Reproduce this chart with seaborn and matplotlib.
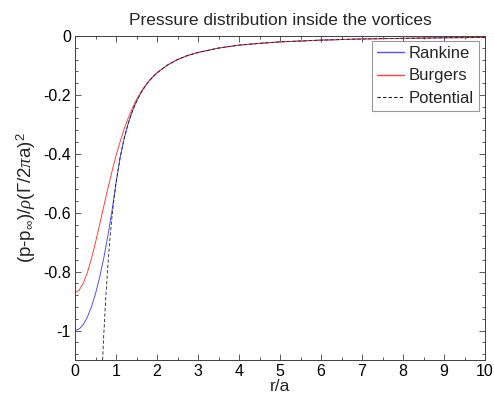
import matplotlib
matplotlib.use("Agg")
import matplotlib.pyplot as plt
import seaborn as sns
from matplotlib.ticker import MultipleLocator
from matplotlib.lines import Line2D

# ---- data ----
r_rankine = [0.0, 0.1, 0.2, 0.3, 0.4, 0.5, 0.6, 0.7, 0.8, 0.9, 1.0, 1.1, 1.2, 1.3,
             1.4, 1.5, 1.6, 1.7, 1.8, 1.9, 2.0, 2.25, 2.5, 2.75, 3.0, 3.5, 4.0,
             4.5, 5.0, 6.0, 7.0, 8.0, 9.0, 10.0]
p_rankine = [-1.0, -0.995, -0.98, -0.955, -0.92, -0.875, -0.82, -0.755, -0.68,
             -0.595, -0.5, -0.413, -0.347, -0.296, -0.255, -0.222, -0.195,
             -0.173, -0.154, -0.139, -0.125, -0.099, -0.08, -0.066, -0.056,
             -0.041, -0.031, -0.025, -0.02, -0.014, -0.010, -0.008, -0.006, -0.005]

r_burgers = [0.0, 0.1, 0.2, 0.3, 0.4, 0.5, 0.6, 0.7, 0.8, 0.9, 1.0, 1.1, 1.2, 1.3,
             1.4, 1.5, 1.6, 1.7, 1.8, 1.9, 2.0, 2.25, 2.5, 2.75, 3.0, 3.5, 4.0,
             4.5, 5.0, 6.0, 7.0, 8.0, 9.0, 10.0]
p_burgers = [-0.871, -0.863, -0.840, -0.804, -0.756, -0.701, -0.641, -0.579,
             -0.519, -0.461, -0.407, -0.359, -0.315, -0.278, -0.245, -0.216,
             -0.192, -0.171, -0.153, -0.138, -0.125, -0.099, -0.08, -0.066,
             -0.056, -0.041, -0.031, -0.025, -0.02, -0.014, -0.010, -0.008,
             -0.006, -0.005]

r_potential = [0.674, 0.7, 0.75, 0.8, 0.85, 0.9, 0.95, 1.0, 1.1, 1.2, 1.3, 1.4,
               1.5, 1.6, 1.7, 1.8, 1.9, 2.0, 2.25, 2.5, 2.75, 3.0, 3.5, 4.0, 4.5,
               5.0, 6.0, 7.0, 8.0, 9.0, 10.0]
p_potential = [-1.1, -1.02, -0.889, -0.781, -0.692, -0.617, -0.554, -0.5, -0.413,
               -0.347, -0.296, -0.255, -0.222, -0.195, -0.173, -0.154, -0.139,
               -0.125, -0.099, -0.08, -0.066, -0.056, -0.041, -0.031, -0.025,
               -0.02, -0.014, -0.010, -0.008, -0.006, -0.005]

series_labels = ["Rankine", "Burgers", "Potential"]
series_colors = ["#5050ff", "#ff4040", "#202020"]
x_ticks = [0, 1, 2, 3, 4, 5, 6, 7, 8, 9, 10]
y_ticks = [0, -0.2, -0.4, -0.6, -0.8, -1.0]
y_tick_labels = ["0", "-0.2", "-0.4", "-0.6", "-0.8", "-1"]

sns.set_style("white")
plt.rcParams["font.family"] = ["Liberation Sans", "DejaVu Sans"]
plt.rcParams["axes.unicode_minus"] = False
plt.rcParams["mathtext.fontset"] = "custom"
plt.rcParams["mathtext.rm"] = "Liberation Sans"
plt.rcParams["mathtext.it"] = "Liberation Serif:italic"

fig = plt.figure(figsize=(4.94, 3.98), dpi=100)
ax = fig.add_axes([75 / 494, 1 - 360 / 398, 410 / 494, 324 / 398])

dash = (0, (4, 2.5))
sns.lineplot(x=r_rankine, y=p_rankine, ax=ax, color=series_colors[0], linewidth=0.7)
sns.lineplot(x=r_burgers, y=p_burgers, ax=ax, color=series_colors[1], linewidth=0.7)
sns.lineplot(x=r_potential, y=p_potential, ax=ax, color=series_colors[2],
             linewidth=0.6, linestyle=dash)

ax.set_xlim(0, 10)
ax.set_ylim(-1.1, 0)
ax.set_xticks(x_ticks)
ax.set_xticklabels([str(t) for t in x_ticks])
ax.set_yticks(y_ticks)
ax.set_yticklabels(y_tick_labels)
ax.xaxis.set_minor_locator(MultipleLocator(0.5))
ax.yaxis.set_minor_locator(MultipleLocator(0.04))
ax.tick_params(which="both", direction="in", top=True, right=True,
               bottom=True, left=True, colors="#404040", labelcolor="black",
               labelsize=11.5, pad=3)
ax.tick_params(which="major", length=4, width=0.6)
ax.tick_params(which="minor", length=2, width=0.6)
for s in ax.spines.values():
    s.set_color("#404040")
    s.set_linewidth(0.7)

ax.set_title("Pressure distribution inside the vortices", fontsize=12.5, pad=8)
ax.set_xlabel("r/a", fontsize=12.5, labelpad=0)
ax.set_ylabel(r"(p-p$_{\infty}$)/$\rho$($\Gamma$/2$\pi$a)$^2$", fontsize=13.5,
              labelpad=4)

handles = [
    Line2D([], [], color=series_colors[0], linewidth=1.0),
    Line2D([], [], color=series_colors[1], linewidth=1.0),
    Line2D([], [], color=series_colors[2], linewidth=0.8, linestyle=(0, (3, 2))),
]
leg = ax.legend(handles, series_labels, loc="upper right",
                bbox_to_anchor=(0.985, 0.985),
                borderaxespad=0, fontsize=12, handlelength=1.6,
                handletextpad=0.3, labelspacing=0.45, borderpad=0.3,
                fancybox=False, frameon=True)
leg.get_frame().set_edgecolor("#808080")
leg.get_frame().set_linewidth(0.8)

fig.savefig("out.png", dpi=100, facecolor="white")
